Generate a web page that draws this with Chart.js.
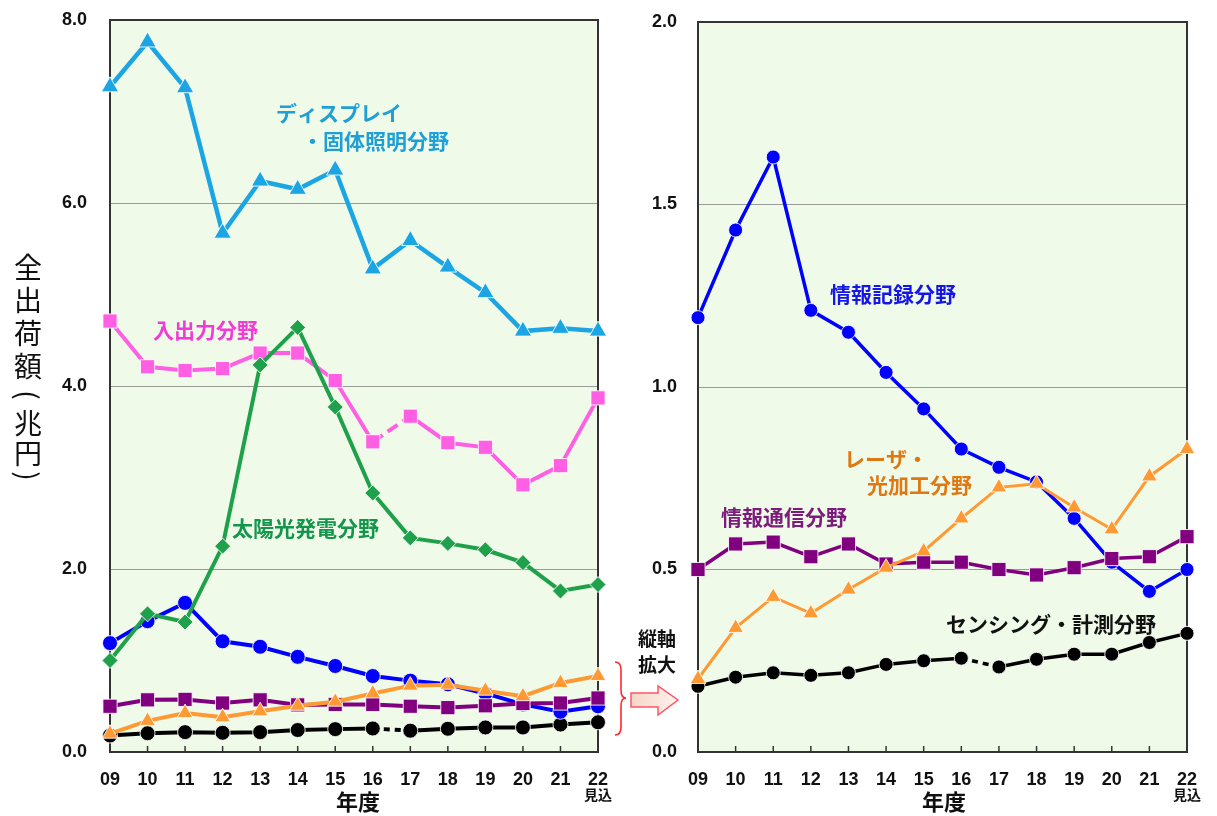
<!DOCTYPE html>
<html><head><meta charset="utf-8">
<script src="https://cdn.jsdelivr.net/npm/chart.js@4.4.0/dist/chart.umd.min.js"></script>
<style>
html,body{margin:0;padding:0;background:#fff;}
#wrap{position:relative;width:1217px;height:816px;overflow:hidden;background:#fff;}
canvas{position:absolute;top:0;}
</style></head><body>
<div id="wrap">
<canvas id="c1" width="620" height="816" style="left:0px"></canvas>
<canvas id="c2" width="617" height="816" style="left:600px"></canvas>
</div>
<script>
// ---- data ----
const years = ['09','10','11','12','13','14','15','16','17','18','19','20','21','22'];
const displayLighting = [7.27, 7.76, 7.26, 5.67, 6.24, 6.15, 6.36, 5.28, 5.59, 5.30, 5.02, 4.60, 4.63, 4.60];
const inputOutput     = [4.71, 4.21, 4.17, 4.19, 4.36, 4.36, 4.06, 3.39, 3.67, 3.38, 3.33, 2.92, 3.13, 3.87];
const solarPower      = [1.00, 1.51, 1.42, 2.25, 4.23, 4.64, 3.77, 2.83, 2.34, 2.28, 2.21, 2.07, 1.76, 1.83];
const infoRecording   = [1.19, 1.43, 1.63, 1.21, 1.15, 1.04, 0.94, 0.83, 0.78, 0.74, 0.64, 0.52, 0.44, 0.50];
const infoComm        = [0.50, 0.57, 0.575, 0.535, 0.57, 0.515, 0.52, 0.52, 0.50, 0.485, 0.505, 0.53, 0.535, 0.59];
const laserProcessing = [0.20, 0.34, 0.425, 0.38, 0.445, 0.505, 0.55, 0.64, 0.725, 0.735, 0.67, 0.61, 0.755, 0.83];
const sensing         = [0.18, 0.205, 0.217, 0.21, 0.217, 0.24, 0.25, 0.257, 0.233, 0.254, 0.268, 0.268, 0.30, 0.325];
const leftTicksMax = 8, leftStep = 2;
const rightTicksMax = 2, rightStep = 0.5;
const dashedFromIndex = 7; // segment 16 -> 17 drawn dashed

const JP = '"Noto Sans CJK JP", "Noto Sans", sans-serif';
const NUM = '"Liberation Sans", Arial, sans-serif';

function ds(data, color, style, radius, order, width, dashed, dashPat) {
  return {
    data, borderColor: color, backgroundColor: color,
    pointBackgroundColor: color, pointBorderColor: 'rgba(255,255,255,0.85)', pointBorderWidth: 1,
    pointStyle: style, pointRadius: radius, pointHoverRadius: radius,
    borderWidth: width, tension: 0, clip: false, order,
    segment: dashed ? { borderDash: c => c.p0DataIndex === dashedFromIndex ? dashPat : undefined } : undefined
  };
}

const framePlugin = {
  id: 'frame',
  beforeDraw(chart) {
    const {ctx, chartArea: a} = chart;
    ctx.save();
    ctx.fillStyle = '#effbe8';
    ctx.fillRect(a.left, a.top, a.right - a.left, a.bottom - a.top);
    ctx.restore();
  },
  beforeDatasetsDraw(chart) {
    const {ctx, chartArea: a} = chart;
    const xs = chart.scales.x;
    ctx.save();
    ctx.strokeStyle = '#333';
    ctx.lineWidth = 2;
    ctx.strokeRect(a.left, a.top, a.right - a.left, a.bottom - a.top);
    ctx.lineWidth = 1.5;
    for (let i = 0; i < xs.ticks.length; i++) {
      const x = xs.getPixelForTick(i);
      ctx.beginPath(); ctx.moveTo(x, a.bottom); ctx.lineTo(x, a.bottom - 6); ctx.stroke();
    }
    ctx.restore();
  }
};

function textPlugin(items, extra) {
  return {
    id: 'texts',
    afterDraw(chart) {
      const ctx = chart.ctx;
      ctx.save();
      ctx.textBaseline = 'middle';
      items.forEach(t => {
        ctx.font = (t.weight || 'bold') + ' ' + t.size + 'px ' + JP;
        ctx.fillStyle = t.color;
        ctx.textAlign = t.align || 'left';
        ctx.fillText(t.text, t.x, t.y);
      });
      const xs = chart.scales.x;
      ctx.font = 'bold 14px ' + JP;
      ctx.fillStyle = '#111';
      ctx.textAlign = 'center';
      ctx.fillText('見込', xs.getPixelForTick(xs.ticks.length - 1), 795);
      if (extra) extra(ctx, chart);
      ctx.restore();
    }
  };
}

function baseOptions(max, step, yWidth, tickLen, padding) {
  return {
    responsive: false, animation: false, devicePixelRatio: 1,
    layout: { padding },
    plugins: { legend: { display: false }, tooltip: { enabled: false } },
    scales: {
      x: {
        type: 'category', offset: false,
        grid: { display: false }, border: { display: false },
        ticks: { color: '#111', font: { family: NUM, size: 18, weight: 'bold' }, padding: 9, maxRotation: 0, autoSkip: false },
        afterFit(s) { s.height = 64; }
      },
      y: {
        min: 0, max,
        grid: { color: '#9a9a9a', lineWidth: 1, drawTicks: true, tickLength: tickLen, tickColor: 'rgba(0,0,0,0)' },
        border: { display: false },
        ticks: { stepSize: step, color: '#111', font: { family: NUM, size: 18, weight: 'bold' }, padding: 3,
          callback: v => Number(v).toFixed(1) },
        afterFit(s) { s.width = yWidth; }
      }
    }
  };
}

// ---- left chart ----
const titleChars = ['全','出','荷','額','(','兆','円',')'];
const titleYs = [267, 300, 333, 366, 395, 423, 453, 476];
new Chart(document.getElementById('c1'), {
  type: 'line',
  data: {
    labels: years,
    datasets: [
      ds(sensing, '#000000', 'circle', 7.5, 7, 4, true, [6, 5]),
      ds(infoRecording, '#0000ff', 'circle', 7.5, 6, 4),
      ds(infoComm, '#800080', 'rect', 10, 5, 4),
      ds(laserProcessing, '#ff9933', 'triangle', 9, 4, 4),
      ds(inputOutput, '#ff5fe3', 'rect', 10, 3, 4, true, [12, 6]),
      ds(solarPower, '#1fa04a', 'rectRot', 8, 2, 4),
      ds(displayLighting, '#1ba6e3', 'triangle', 10, 1, 4.5)
    ]
  },
  options: baseOptions(leftTicksMax, leftStep, 110, 20, { left: 0, right: 22, top: 20, bottom: 0 }),
  plugins: [framePlugin, textPlugin([
    { text: 'ディスプレイ', x: 276, y: 113, size: 21, color: '#1f9fd6' },
    { text: '・固体照明分野', x: 302, y: 141, size: 21, color: '#1f9fd6' },
    { text: '入出力分野', x: 153, y: 330, size: 21, color: '#f23ad6' },
    { text: '太陽光発電分野', x: 232, y: 528, size: 21, color: '#13954b' },
    { text: '年度', x: 358, y: 802, size: 22, color: '#111', align: 'center' }
  ], (ctx) => {
    ctx.font = '28px ' + JP;
    ctx.fillStyle = '#111';
    ctx.textAlign = 'center';
    ctx.textBaseline = 'middle';
    titleChars.forEach((c, i) => {
      if (c === '(' || c === ')') {
        ctx.save();
        ctx.translate(28, titleYs[i]);
        ctx.rotate(Math.PI / 2);
        ctx.fillText(c, 0, 0);
        ctx.restore();
      } else {
        ctx.fillText(c, 28, titleYs[i]);
      }
    });
  })]
});

// ---- right chart ----
new Chart(document.getElementById('c2'), {
  type: 'line',
  data: {
    labels: years,
    datasets: [
      ds(sensing, '#000000', 'circle', 7, 7, 3.5, true, [6, 5]),
      ds(infoRecording, '#0000ff', 'circle', 7, 6, 3.5),
      ds(infoComm, '#800080', 'rect', 10, 5, 3.5),
      ds(laserProcessing, '#ff9933', 'triangle', 9, 4, 3)
    ]
  },
  options: baseOptions(rightTicksMax, rightStep, 98, 18, { left: 0, right: 30, top: 22, bottom: 0 }),
  plugins: [framePlugin, textPlugin([
    { text: '情報記録分野', x: 230, y: 294, size: 21, color: '#1515e8' },
    { text: 'レーザ・', x: 244, y: 459, size: 21, color: '#e07812' },
    { text: '光加工分野', x: 267, y: 485, size: 21, color: '#e07812' },
    { text: '情報通信分野', x: 121, y: 517, size: 21, color: '#7d1a7d' },
    { text: 'センシング・計測分野', x: 346, y: 624, size: 21, color: '#111' },
    { text: '縦軸', x: 57, y: 639, size: 19, color: '#111', align: 'center' },
    { text: '拡大', x: 57, y: 665, size: 19, color: '#111', align: 'center' },
    { text: '年度', x: 344, y: 802, size: 22, color: '#111', align: 'center' }
  ], (ctx) => {
    ctx.strokeStyle = '#ff2a2a';
    ctx.lineWidth = 1.6;
    ctx.beginPath();
    ctx.moveTo(15, 662);
    ctx.quadraticCurveTo(21, 662, 21, 670);
    ctx.lineTo(21, 690);
    ctx.quadraticCurveTo(21, 698, 26, 698);
    ctx.quadraticCurveTo(21, 698, 21, 706);
    ctx.lineTo(21, 727);
    ctx.quadraticCurveTo(21, 735, 15, 735);
    ctx.stroke();
    const g = ctx.createLinearGradient(31, 0, 78, 0);
    g.addColorStop(0, '#f5d6c6');
    g.addColorStop(1, '#fff3ee');
    ctx.fillStyle = g;
    ctx.strokeStyle = '#ff5468';
    ctx.lineWidth = 1.5;
    ctx.beginPath();
    ctx.moveTo(31, 693); ctx.lineTo(58, 693); ctx.lineTo(58, 686);
    ctx.lineTo(78, 700); ctx.lineTo(58, 715); ctx.lineTo(58, 707);
    ctx.lineTo(31, 707); ctx.closePath();
    ctx.fill(); ctx.stroke();
  })]
});
</script>
</body></html>
